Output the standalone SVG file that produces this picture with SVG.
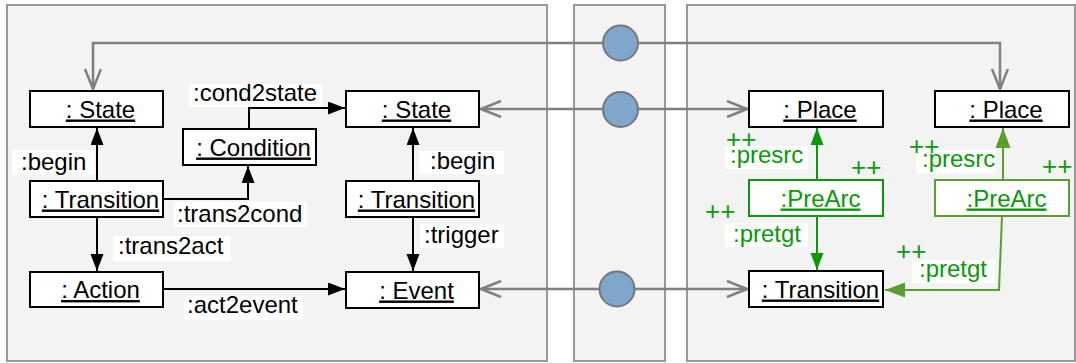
<svg xmlns="http://www.w3.org/2000/svg" width="1076" height="363" viewBox="0 0 1076 363">
<style>
text{font-family:"Liberation Sans",Arial,Helvetica,sans-serif;font-size:24px;fill:#000}
.panel{fill:#f3f3f3;stroke:#999;stroke-width:2}
.node rect{fill:#fff;stroke:#000;stroke-width:2}
.node text{text-anchor:middle;text-decoration:underline}
.gn rect{stroke:#0a990a}
.gn text{fill:#0a990a}
.gn2 rect{stroke:#5a9e2e}
.lbl{fill:#fff}
.g{fill:#0a990a}
.pp{font-size:26px}
.blk{fill:none;stroke:#000;stroke-width:2;marker-end:url(#ab)}
.grn{fill:none;stroke:#0a990a;stroke-width:2;marker-end:url(#ag)}
.grn2{fill:none;stroke:#5a9e2e;stroke-width:2;marker-end:url(#ag2)}
.gry{fill:none;stroke:#808080;stroke-width:2.5;marker-start:url(#ao);marker-end:url(#ao)}
.hub{fill:#7fa6cc;stroke:#777;stroke-width:2}
</style>
<defs>
<marker id="ab" markerUnits="userSpaceOnUse" markerWidth="18" markerHeight="14" refX="17" refY="6.5" orient="auto"><path d="M0,0 L17,6.5 L0,13 z" fill="#000"/></marker>
<marker id="ag" markerUnits="userSpaceOnUse" markerWidth="18" markerHeight="14" refX="17" refY="6.5" orient="auto"><path d="M0,0 L17,6.5 L0,13 z" fill="#0a990a"/></marker>
<marker id="ag2" markerUnits="userSpaceOnUse" markerWidth="21" markerHeight="16" refX="20" refY="7.5" orient="auto"><path d="M0,0 L20,7.5 L0,15 z" fill="#5a9e2e"/></marker>
<marker id="ao" markerUnits="userSpaceOnUse" markerWidth="24" markerHeight="20" refX="21" refY="9" orient="auto-start-reverse"><path d="M1,1 L21,9 L1,17" fill="none" stroke="#808080" stroke-width="2.5"/></marker>
</defs>
<g id="panels">
<rect class="panel" x="7" y="5" width="540" height="356"/>
<rect class="panel" x="574" y="5" width="91" height="356"/>
<rect class="panel" x="687" y="5" width="388" height="356"/>
</g>
<g id="connectors">
<path class="blk" d="M97,181 V128"/>
<path class="blk" d="M249,129 V108 H345"/>
<path class="blk" d="M163,199 H248 V166"/>
<path class="blk" d="M97,217 V271"/>
<path class="blk" d="M163,289 H345"/>
<path class="blk" d="M413,181 V128"/>
<path class="blk" d="M413,217 V271"/>
<path class="grn" d="M817,180 V128"/>
<path class="grn" d="M817,216 V270"/>
<path class="grn2" d="M1003,180 V128"/>
<path class="grn2" d="M1002,216 L999,290 H885"/>
<path class="gry" d="M93,89 V43 H1000 V89"/>
<path class="gry" d="M481,109 H747"/>
<path class="gry" d="M481,289 H747"/>
<circle class="hub" cx="620.5" cy="43" r="17.5"/>
<circle class="hub" cx="620.5" cy="109.5" r="17.5"/>
<circle class="hub" cx="617" cy="289" r="17.5"/>
<rect class="lbl" x="189" y="84" width="133" height="23"/><text x="193" y="101">:cond2state</text>
<rect class="lbl" x="12" y="150" width="83" height="25"/><text x="21" y="170">:begin</text>
<rect class="lbl" x="174" y="202" width="133" height="25"/><text x="177" y="221.5">:trans2cond</text>
<rect class="lbl" x="113" y="236" width="118" height="25"/><text x="118" y="254">:trans2act</text>
<rect class="lbl" x="184" y="296" width="119" height="24"/><text x="187" y="313">:act2event</text>
<rect class="lbl" x="419" y="151" width="85" height="23"/><text x="430" y="169">:begin</text>
<rect class="lbl" x="420" y="224" width="84" height="24"/><text x="424" y="242.5">:trigger</text>
<rect class="lbl" x="725" y="146" width="83" height="23"/><text class="g" x="730" y="163">:presrc</text>
<rect class="lbl" x="916" y="150" width="80" height="23"/><text class="g" x="922" y="166.5">:presrc</text>
<rect class="lbl" x="725" y="223" width="83" height="24"/><text class="g" x="733" y="241.5">:pretgt</text>
<rect class="lbl" x="912" y="260" width="83" height="23"/><text class="g" x="919" y="277">:pretgt</text>
<text class="g pp" x="726" y="148">++</text>
<text class="g pp" x="851" y="176">++</text>
<text class="g pp" x="909" y="155">++</text>
<text class="g pp" x="1042" y="175">++</text>
<text class="g pp" x="705" y="220">++</text>
<text class="g pp" x="896" y="260">++</text>
</g>
<g id="n-state1" class="node"><rect x="30" y="91" width="133" height="36"/><text x="100.5" y="117.5">: State</text></g>
<g id="n-condition" class="node"><rect x="183" y="129" width="133" height="36"/><text x="253.5" y="155.5">: Condition</text></g>
<g id="n-transition1" class="node"><rect x="30" y="181" width="133" height="36"/><text x="100.5" y="207.5">: Transition</text></g>
<g id="n-action" class="node"><rect x="30" y="272" width="133" height="35"/><text x="100.5" y="298">: Action</text></g>
<g id="n-state2" class="node"><rect x="346" y="91" width="133" height="36"/><text x="416.5" y="117.5">: State</text></g>
<g id="n-transition2" class="node"><rect x="346" y="181" width="133" height="36"/><text x="416.5" y="207.5">: Transition</text></g>
<g id="n-event" class="node"><rect x="346" y="272" width="133" height="36"/><text x="416.5" y="298.5">: Event</text></g>
<g id="n-place1" class="node"><rect x="749" y="91" width="134" height="36"/><text x="820" y="117.5">: Place</text></g>
<g id="n-place2" class="node"><rect x="935" y="91" width="134" height="36"/><text x="1006" y="117.5">: Place</text></g>
<g id="n-prearc1" class="node gn"><rect x="749" y="180" width="134" height="36"/><text x="820.5" y="206.5">:PreArc</text></g>
<g id="n-prearc2" class="node gn gn2"><rect x="935" y="180" width="134" height="36"/><text x="1006.5" y="206.5">:PreArc</text></g>
<g id="n-transition3" class="node"><rect x="749" y="271" width="134" height="36"/><text x="820.5" y="297.5">: Transition</text></g>
</svg>
